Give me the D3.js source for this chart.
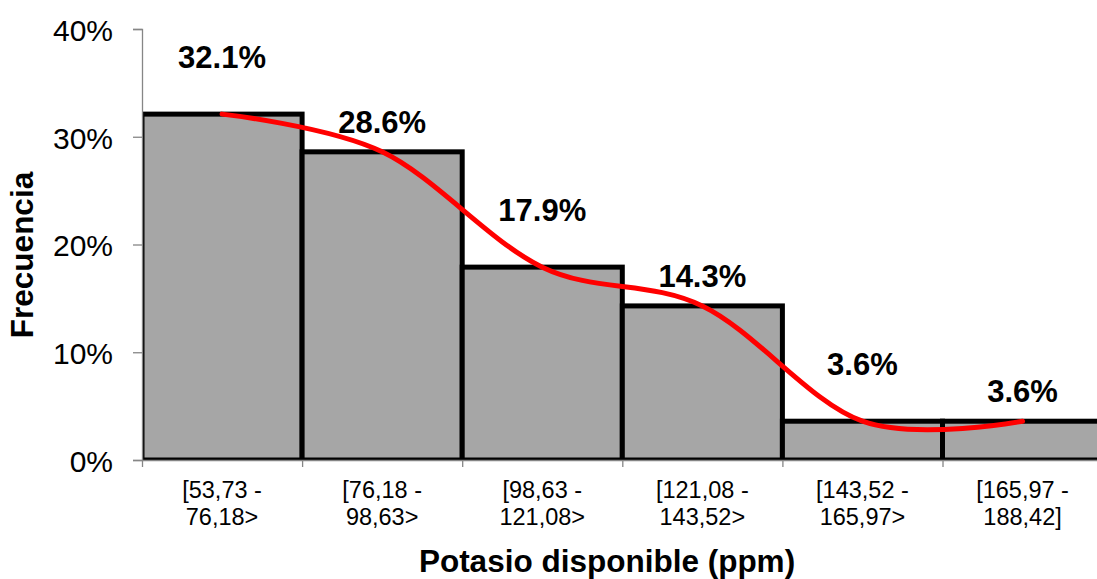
<!DOCTYPE html>
<html>
<head>
<meta charset="utf-8">
<script src="https://cdn.jsdelivr.net/npm/d3@7"></script>
<style>
  html, body { margin: 0; padding: 0; background: #fff; }
  svg { display: block; }
  text { font-family: "Liberation Sans", Arial, sans-serif; fill: #000; }
</style>
</head>
<body>
<svg id="chart" width="1097" height="579"></svg>
<script>
// Class intervals of available potassium (ppm), each split over two lines
const categories = [
  "[53,73 -\n76,18>",
  "[76,18 -\n98,63>",
  "[98,63 -\n121,08>",
  "[121,08 -\n143,52>",
  "[143,52 -\n165,97>",
  "[165,97 -\n188,42]"
];
// Relative frequency of each class, in percent
const frequency = [32.1, 28.6, 17.9, 14.3, 3.6, 3.6];
// Value-axis ticks, in percent
const yTicks = [0, 10, 20, 30, 40];

const yTitle = "Frecuencia";
const xTitle = "Potasio disponible (ppm)";

const svg = d3.select("#chart");

const plot = { left: 142, top: 29, right: 1102.6, bottom: 460 };

const x = d3.scaleBand()
  .domain(categories)
  .range([plot.left, plot.right])
  .padding(0);

// Category boundaries, used for the tick marks between classes
const xEdge = d3.scaleLinear()
  .domain([0, categories.length])
  .range([plot.left, plot.right]);

const y = d3.scaleLinear()
  .domain([0, 40])
  .range([plot.bottom, plot.top]);

// Clip region for the plot area
svg.append("defs").append("clipPath").attr("id", "plotClip")
  .append("rect")
  .attr("x", plot.left)
  .attr("y", plot.top - 10)
  .attr("width", plot.right - plot.left + 20)
  .attr("height", plot.bottom - plot.top + 10);

// Histogram bars
svg.append("g")
  .attr("clip-path", "url(#plotClip)")
  .selectAll("rect")
  .data(frequency)
  .join("rect")
  .attr("x", (d, i) => x(categories[i]))
  .attr("y", d => y(d))
  .attr("width", x.bandwidth())
  .attr("height", d => y(0) - y(d))
  .attr("fill", "#a6a6a6")
  .attr("stroke", "#000")
  .attr("stroke-width", 5);

// Value axis
const yAxis = svg.append("g")
  .attr("transform", `translate(${plot.left},0)`)
  .call(d3.axisLeft(y)
    .tickValues(yTicks)
    .tickSize(9)
    .tickPadding(20)
    .tickFormat(d => d + "%"));
yAxis.select(".domain").attr("stroke", "#868686").attr("stroke-width", 1.3);
yAxis.selectAll(".tick line").attr("stroke", "#868686").attr("stroke-width", 1.3);
yAxis.selectAll(".tick text")
  .attr("font-size", 30)
  .attr("font-family", "Liberation Sans, Arial, sans-serif")
  .attr("fill", "#000")
  .attr("dy", "0.38em");

// Category axis: ticks at class boundaries
const xAxis = svg.append("g")
  .attr("transform", `translate(0,${plot.bottom})`)
  .call(d3.axisBottom(xEdge)
    .tickValues(d3.range(categories.length + 1))
    .tickSize(7)
    .tickSizeOuter(0)
    .tickFormat(""));
xAxis.select(".domain").attr("stroke", "#868686").attr("stroke-width", 1.3);
xAxis.selectAll(".tick line").attr("stroke", "#868686").attr("stroke-width", 1.3);

// Category labels
const catLabels = svg.append("g")
  .selectAll("text")
  .data(categories)
  .join("text")
  .attr("x", d => x(d) + x.bandwidth() / 2)
  .attr("y", 498)
  .attr("text-anchor", "middle")
  .attr("font-size", 23.5);
catLabels.selectAll("tspan")
  .data(d => d.split("\n"))
  .join("tspan")
  .attr("x", function () { return d3.select(this.parentNode).attr("x"); })
  .attr("dy", (d, i) => i === 0 ? 0 : 27)
  .text(d => d);

// Smoothed frequency line through the class centres
const line = d3.line()
  .x((d, i) => x(categories[i]) + x.bandwidth() / 2)
  .y(d => y(d))
  .curve(d3.curveCardinal.tension(0));

svg.append("path")
  .datum(frequency)
  .attr("d", line)
  .attr("fill", "none")
  .attr("stroke", "#ff0000")
  .attr("stroke-width", 5)
  .attr("stroke-linecap", "round")
  .attr("stroke-linejoin", "round");

// Value labels, staggered above the bars
svg.append("g")
  .selectAll("text")
  .data(frequency)
  .join("text")
  .attr("x", (d, i) => x(categories[i]) + x.bandwidth() / 2)
  .attr("y", (d, i) => y(d) - (i % 2 === 0 ? 46 : 19))
  .attr("text-anchor", "middle")
  .attr("font-size", 31)
  .attr("font-weight", "bold")
  .text(d => d.toFixed(1) + "%");

// Axis titles
svg.append("text")
  .attr("transform", "translate(33,255) rotate(-90)")
  .attr("text-anchor", "middle")
  .attr("font-size", 31.5)
  .attr("font-weight", "bold")
  .text(yTitle);

svg.append("text")
  .attr("x", 607)
  .attr("y", 572)
  .attr("text-anchor", "middle")
  .attr("font-size", 31.5)
  .attr("font-weight", "bold")
  .text(xTitle);
</script>
</body>
</html>
